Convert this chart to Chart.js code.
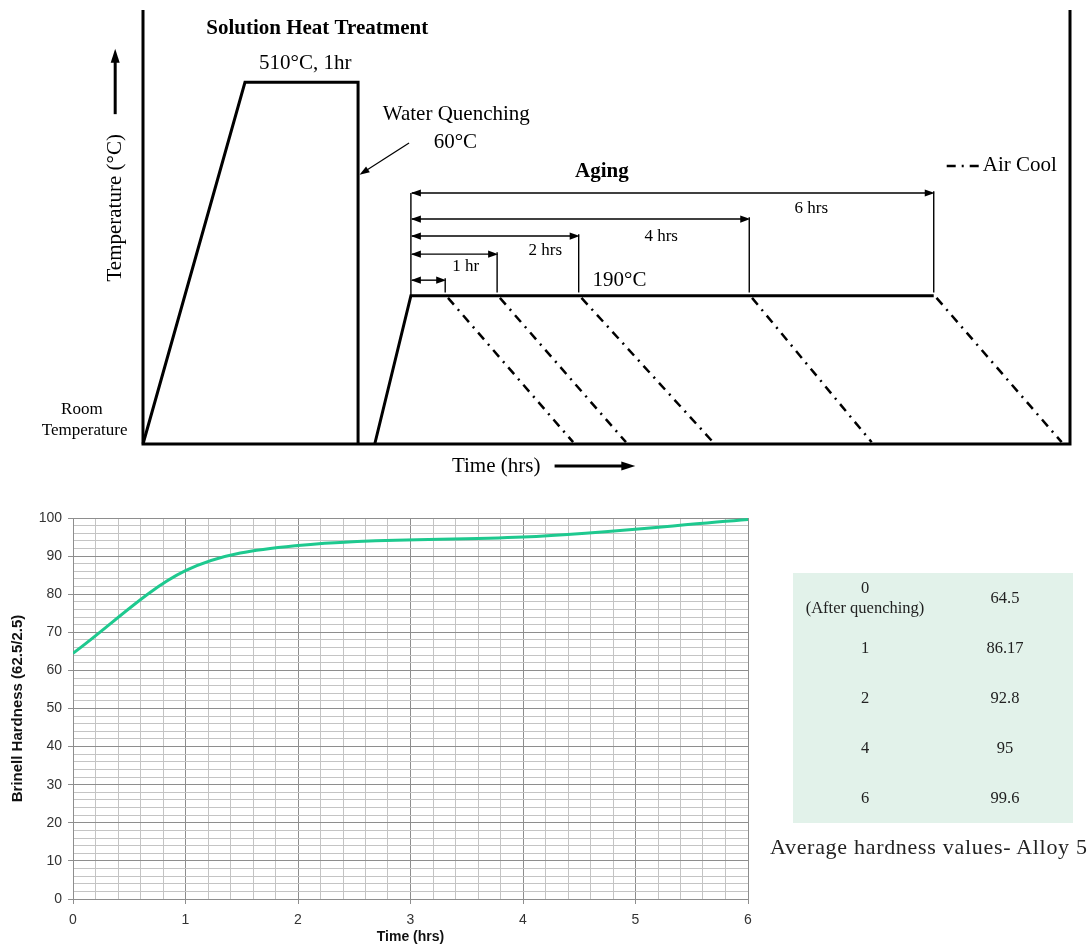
<!DOCTYPE html>
<html>
<head>
<meta charset="utf-8">
<script src="https://cdn.jsdelivr.net/npm/chart.js@4.4.1/dist/chart.umd.min.js"></script>
<style>
  body { margin: 0; background: #fff; width: 1091px; height: 949px; position: relative; overflow: hidden; }
  #heat { position: absolute; left: 0; top: 0; width: 1091px; height: 480px; }
  #hard { position: absolute; left: 0; top: 500px; width: 760px; height: 449px; filter: blur(0.35px); }
  #tbl { position: absolute; left: 793px; top: 573px; width: 280px; border-collapse: collapse;
         background: #e2f2ea; font-family: "Liberation Serif", serif; font-size: 16.5px; color: #222;
         filter: blur(0.35px); }
  #tbl td { height: 50px; padding: 0; text-align: center; line-height: 20px; }
  #tbl td.h { width: 144px; }
  #caption { position: absolute; left: 770px; top: 834px; font-family: "Liberation Serif", serif;
             font-size: 22px; letter-spacing: 0.7px; color: #222; white-space: nowrap; line-height: 26px;
             filter: blur(0.3px); }
</style>
</head>
<body>
<canvas id="heat" width="1091" height="480"></canvas>
<canvas id="hard" width="760" height="449"></canvas>
<table id="tbl"></table>
<div id="caption">Average hardness values- Alloy 5</div>
<script>
//------------------ heat treatment schedule (schematic units) ------------------
const ROOM = 0;
const SOLUTION_TEMP = 100;
const AGING_TEMP = 41;
const frameTimes = [0, 0, 100, 100];
const frameTemps = [120, 0, 0, 120];
const solutionTimes = [0, 11, 23.2, 23.2];
const solutionTemps = [ROOM, SOLUTION_TEMP, SOLUTION_TEMP, ROOM];
const agingTimes = [25, 28.9, 85.3];
const agingTemps = [ROOM, AGING_TEMP, AGING_TEMP];
const agingEnds = [32.6, 38.2, 47.0, 65.4, 85.3];   // end of each hold
const coolEnds = [46.4, 52.1, 61.5, 78.6, 99.1];    // air cool back to room temp
const holdLabels = ['', '1 hr', '2 hrs', '4 hrs', '6 hrs'];
const arrowLevels = [45.3, 52.5, 57.5, 62.2, 69.4];

//------------------ hardness results ------------------
const agingHours = [0, 1, 2, 4, 6];
const hardness = [64.5, 86.17, 92.8, 95, 99.6];
const hourNotes = ['(After quenching)', '', '', '', ''];

// text placed on the schedule, in the same schematic units
const serif = '"Liberation Serif", "Times New Roman", serif';
const notes = [
  { text: 'Solution Heat Treatment', t: 18.8, T: 115.0, font: 'bold 21px ' + serif },
  { text: '510°C, 1hr', t: 17.5, T: 105.1, font: '21px ' + serif },
  { text: 'Water Quenching', t: 33.8, T: 91.0, font: '21px ' + serif },
  { text: '60°C', t: 33.7, T: 83.5, font: '21px ' + serif },
  { text: 'Aging', t: 49.5, T: 75.2, font: 'bold 21px ' + serif },
  { text: '190°C', t: 51.4, T: 45.3, font: '21px ' + serif },
  { text: 'Air Cool', t: 90.6, T: 76.9, font: '21px ' + serif, align: 'left' },
  { text: 'Room', t: -6.6, T: 9.4, font: '17px ' + serif },
  { text: 'Temperature', t: -6.3, T: 3.6, font: '17px ' + serif },
  { text: 'Time (hrs)', t: 38.1, T: -6.1, font: '21px ' + serif },
  { text: 'Temperature (°C)', t: -3.0, T: 65.3, font: '21px ' + serif, rotate: true }
];
const holdLabelPos = [[0, 0], [34.8, 49.2], [43.4, 53.4], [55.9, 57.5], [72.1, 65.0]];

function pts(xs, ys) {
    return xs.map((v, i) => ({ x: v, y: ys[i] }));
}

function head(ctx, x, y, a, len, half) {
    ctx.save();
    ctx.translate(x, y);
    ctx.rotate(a);
    ctx.beginPath();
    ctx.moveTo(1, 0);
    ctx.lineTo(-len, -half);
    ctx.lineTo(-len, half);
    ctx.closePath();
    ctx.fill();
    ctx.restore();
}

function arrow(ctx, x0, y0, x1, y1, w, len, half, both) {
    const a = Math.atan2(y1 - y0, x1 - x0);
    ctx.lineWidth = w;
    ctx.beginPath();
    ctx.moveTo(x0, y0);
    ctx.lineTo(x1 - Math.cos(a) * len * 0.5, y1 - Math.sin(a) * len * 0.5);
    ctx.stroke();
    head(ctx, x1, y1, a, len, half);
    if (both) head(ctx, x0, y0, a + Math.PI, len, half);
}

const sketchMarks = {
    id: 'sketchMarks',
    afterDatasetsDraw(chart) {
        const ctx = chart.ctx;
        const px = v => chart.scales.x.getPixelForValue(v);
        const py = v => chart.scales.y.getPixelForValue(v);
        ctx.save();
        ctx.strokeStyle = '#000';
        ctx.fillStyle = '#000';

        // hold time dimension arrows
        agingEnds.forEach((end, i) => {
            arrow(ctx, px(agingTimes[1]) + 1, py(arrowLevels[i]), px(end), py(arrowLevels[i]), 1.4, 9, 3.6, true);
        });

        // temperature / time direction arrows
        arrow(ctx, px(-3), py(91.2), px(-3), py(109), 3, 13, 4.5, false);
        arrow(ctx, px(44.4), py(-6.1), px(53.0), py(-6.1), 3, 13, 4.5, false);
        // pointer to the quench
        arrow(ctx, px(28.7), py(83.2), px(23.45), py(74.6), 1.2, 9, 3.5, false);

        // air cool legend sample
        ctx.lineWidth = 2.5;
        ctx.setLineDash([9, 6, 2, 6]);
        ctx.beginPath();
        ctx.moveTo(px(86.7), py(76.9));
        ctx.lineTo(px(90.3), py(76.9));
        ctx.stroke();
        ctx.setLineDash([]);

        ctx.textBaseline = 'middle';
        notes.forEach(n => {
            ctx.font = n.font;
            ctx.textAlign = n.align || 'center';
            if (n.rotate) {
                ctx.save();
                ctx.translate(px(n.t), py(n.T));
                ctx.rotate(-Math.PI / 2);
                ctx.fillText(n.text, 0, 0);
                ctx.restore();
            } else {
                ctx.fillText(n.text, px(n.t), py(n.T));
            }
        });
        ctx.font = '17px ' + serif;
        ctx.textAlign = 'center';
        holdLabels.forEach((lab, i) => {
            if (lab) ctx.fillText(lab, px(holdLabelPos[i][0]), py(holdLabelPos[i][1]));
        });
        ctx.restore();
    }
};

const thick = { borderColor: '#000', borderWidth: 3, pointRadius: 0, borderJoinStyle: 'miter', clip: false };
const thin = { borderColor: '#000', borderWidth: 1.4, pointRadius: 0, clip: false };
const heatSets = [
    Object.assign({ data: pts(frameTimes, frameTemps) }, thick),
    Object.assign({ data: pts(solutionTimes, solutionTemps) }, thick),
    Object.assign({ data: pts(agingTimes, agingTemps) }, thick),
    Object.assign({ data: pts([agingTimes[1], agingTimes[1]], [AGING_TEMP, arrowLevels[4]]) }, thin)
];
agingEnds.forEach((end, i) => {
    heatSets.push(Object.assign({ data: pts([end, end], [AGING_TEMP + 0.9, arrowLevels[i] + 0.5]) }, thin));
    heatSets.push({
        data: pts([end + 0.3, coolEnds[i]], [AGING_TEMP - 0.6, ROOM + 0.5]),
        borderColor: '#000', borderWidth: 2.5, borderDash: [9, 6, 2, 6], pointRadius: 0, clip: false
    });
});

new Chart(document.getElementById('heat'), {
    type: 'line',
    data: { datasets: heatSets },
    options: {
        responsive: false,
        animation: false,
        layout: { padding: { left: 143, right: 21, top: 10, bottom: 36 } },
        plugins: { legend: { display: false }, tooltip: { enabled: false } },
        elements: { line: { tension: 0 } },
        scales: {
            x: { type: 'linear', min: 0, max: 100, display: false },
            y: { type: 'linear', min: 0, max: 120, display: false }
        }
    },
    plugins: [sketchMarks]
});

//------------------ hardness vs aging time ------------------
const whole = v => Math.abs(v - Math.round(v)) < 1e-6;
const sans = 'Liberation Sans';

new Chart(document.getElementById('hard'), {
    type: 'line',
    data: {
        datasets: [{
            data: pts(agingHours, hardness),
            borderColor: '#1ec98f',
            borderWidth: 3,
            pointRadius: 0,
            cubicInterpolationMode: 'monotone',
            fill: false
        }]
    },
    options: {
        responsive: false,
        animation: false,
        layout: { padding: { left: 0, right: 12, top: 18, bottom: 0 } },
        plugins: { legend: { display: false }, tooltip: { enabled: false } },
        scales: {
            x: {
                type: 'linear', min: 0, max: 6,
                afterFit: s => { s.height = 50; },
                ticks: {
                    stepSize: 0.2, autoSkip: false, maxRotation: 0, padding: 8,
                    color: '#333', font: { family: sans, size: 14 },
                    callback: v => whole(v) ? Math.round(v) : ''
                },
                grid: {
                    tickLength: 5,
                    color: c => whole(c.tick.value) ? '#8e8e8e' : '#c4c4c4',
                    tickColor: c => whole(c.tick.value) ? '#8e8e8e' : 'rgba(0,0,0,0)'
                },
                border: { color: '#8e8e8e' },
                title: {
                    display: true, text: 'Time (hrs)', color: '#111',
                    font: { family: sans, size: 14, weight: 'bold' }, padding: { top: 0, bottom: 3 }
                }
            },
            y: {
                type: 'linear', min: 0, max: 100,
                afterFit: s => { s.width = 73; },
                ticks: {
                    stepSize: 2, autoSkip: false, padding: 6,
                    color: '#333', font: { family: sans, size: 14 },
                    callback: v => v % 10 === 0 ? v : ''
                },
                grid: {
                    tickLength: 5,
                    color: c => c.tick.value % 10 === 0 ? '#8e8e8e' : '#c4c4c4',
                    tickColor: c => c.tick.value % 10 === 0 ? '#8e8e8e' : 'rgba(0,0,0,0)'
                },
                border: { color: '#8e8e8e' },
                title: {
                    display: true, text: 'Brinell Hardness (62.5/2.5)', color: '#111',
                    font: { family: sans, size: 15, weight: 'bold' }, padding: { top: 9, bottom: 0 }
                }
            }
        }
    }
});

// table of averages beside the curve
const tbl = document.getElementById('tbl');
agingHours.forEach((h, i) => {
    const tr = document.createElement('tr');
    const a = document.createElement('td');
    a.className = 'h';
    a.innerHTML = hourNotes[i] ? h + '<br>' + hourNotes[i] : h;
    const b = document.createElement('td');
    b.textContent = hardness[i];
    tr.appendChild(a);
    tr.appendChild(b);
    tbl.appendChild(tr);
});
</script>
</body>
</html>
